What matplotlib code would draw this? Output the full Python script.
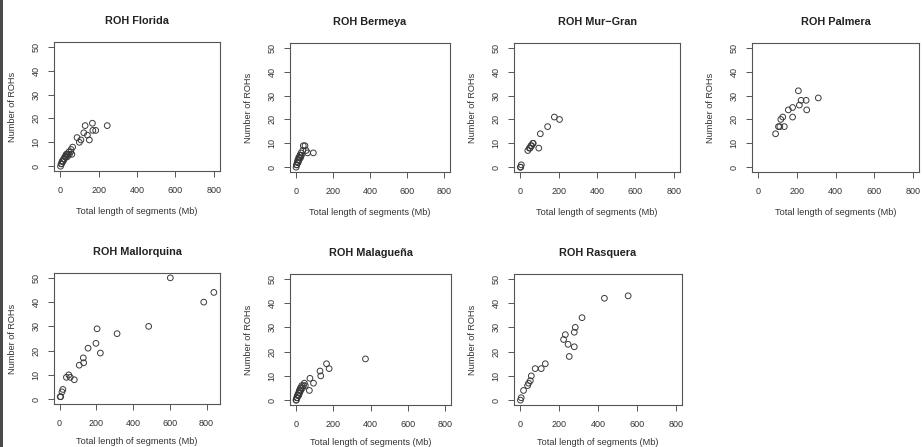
import numpy as np
import matplotlib
matplotlib.use("Agg")
import matplotlib.pyplot as plt
from matplotlib.patches import Rectangle

plt.rcParams['font.family'] = ['Liberation Sans', 'DejaVu Sans']

# ROH: total length of segments (Mb) vs number of ROHs, per breed
florida_x = [2, 5, 8, 10, 12, 15, 18, 20, 22, 25, 28, 30, 32, 35, 38, 40, 45, 48, 55, 57,
             61, 65, 88, 100, 108, 123, 130, 142, 152, 168, 170, 185, 245]
florida_y = [0, 1, 1, 2, 2, 2, 3, 3, 3, 4, 4, 4, 5, 5, 4, 5, 6, 5, 6, 7,
             5, 8, 12, 10, 11, 14, 17, 13, 11, 18, 15, 15, 17]

bermeya_x = [1, 3, 5, 7, 9, 10, 12, 14, 15, 17, 18, 20, 22, 24, 25, 28, 30, 37, 40, 49, 55, 63, 94]
bermeya_y = [0, 1, 1, 2, 2, 3, 2, 3, 4, 3, 4, 4, 5, 5, 4, 6, 5, 7, 9, 9, 7, 6, 6]

murgran_x = [1, 3, 6, 40, 48, 52, 56, 60, 66, 68, 97, 105, 143, 178, 205]
murgran_y = [0, 0, 1, 7, 8, 8, 9, 9, 10, 10, 8, 14, 17, 21, 20]

palmera_x = [90, 105, 112, 135, 117, 127, 178, 156, 178, 208, 213, 222, 248, 251, 311]
palmera_y = [14, 17, 17, 17, 20, 21, 21, 24, 25, 32, 26, 28, 28, 24, 29]

mallorquina_x = [3, 6, 13, 18, 37, 50, 58, 80, 107, 129, 131, 155, 198, 204, 222, 313, 485, 603, 785, 840]
mallorquina_y = [1, 1, 3, 4, 9, 10, 9, 8, 14, 17, 15, 21, 23, 29, 19, 27, 30, 50, 40, 44]

malaguena_x = [0, 2, 4, 5, 7, 8, 10, 12, 14, 15, 17, 18, 20, 22, 24, 26, 28, 31, 35, 40,
               45, 50, 72, 75, 94, 129, 133, 164, 178, 373]
malaguena_y = [0, 0, 1, 1, 1, 2, 2, 2, 3, 2, 3, 4, 3, 4, 5, 4, 5, 6, 5, 6,
               7, 6, 4, 9, 7, 12, 10, 15, 13, 17]

rasquera_x = [1, 5, 17, 38, 43, 52, 57, 77, 108, 129, 223, 232, 246, 252, 278, 278, 283, 318, 433, 555]
rasquera_y = [0, 1, 4, 6, 7, 8, 10, 13, 13, 15, 25, 27, 23, 18, 28, 22, 30, 34, 42, 43]

titles = ["ROH Florida", "ROH Bermeya", "ROH Mur\u2212Gran", "ROH Palmera",
          "ROH Mallorquina", "ROH Malague\u00f1a", "ROH Rasquera"]
xs = [florida_x, bermeya_x, murgran_x, palmera_x, mallorquina_x, malaguena_x, rasquera_x]
ys = [florida_y, bermeya_y, murgran_y, palmera_y, mallorquina_y, malaguena_y, rasquera_y]
x_ticks = [0, 200, 400, 600, 800]
y_ticks = [0, 10, 20, 30, 40, 50]

W, H = 922, 447
# panel boxes in pixels: left, top, right, bottom
boxes = [(54, 42, 220, 171), (290, 43, 450, 172), (514, 43, 680, 172), (752, 43, 919, 172),
         (54, 273, 220, 404), (290, 274, 451, 405), (514, 274, 682, 405)]


def r_lim(lo, hi):
    # R's default 4% axis extension
    d = (hi - lo) * 0.04
    return lo - d, hi + d


fig = plt.figure(figsize=(W / 100, H / 100), dpi=100)
fig.patch.set_facecolor("white")
fig.add_artist(Rectangle((0, 0), 2.5 / W, 1, transform=fig.transFigure,
                         facecolor="#4a4a4a", edgecolor="none"))

txt = "#333333"
for i, (l, t, r, b) in enumerate(boxes):
    ax = fig.add_axes([l / W, 1 - b / H, (r - l) / W, (b - t) / H])
    ax.scatter(xs[i], ys[i], s=17, facecolors="none", edgecolors="#3a3a3a", linewidths=0.7)
    if titles[i] == "ROH Mallorquina":
        ax.set_xlim(*r_lim(min(xs[i]), max(xs[i])))
    else:
        ax.set_xlim(*r_lim(0, 800))
    ax.set_ylim(*r_lim(0, 50))
    ax.set_xticks(x_ticks)
    ax.set_yticks(y_ticks)
    ax.set_yticklabels([str(v) for v in y_ticks], rotation=90, va="center")
    ax.tick_params(direction="out", length=4, width=0.7, colors="#555555",
                   labelcolor=txt, labelsize=6.5)
    ax.tick_params(axis="x", pad=6.5)
    ax.tick_params(axis="y", pad=5.5)
    for s in ax.spines.values():
        s.set_color("#555555")
        s.set_linewidth(0.8)
    ax.set_title(titles[i], fontsize=7.8, fontweight="bold", color="#222222", pad=13)
    ax.set_xlabel("Total length of segments (Mb)", fontsize=6.6, color=txt,
                  labelpad=9 if i < 4 else 6.5)
    ax.set_ylabel("Number of ROHs", fontsize=6.6, color=txt, labelpad=10.5)

fig.savefig("out.png", dpi=100)
